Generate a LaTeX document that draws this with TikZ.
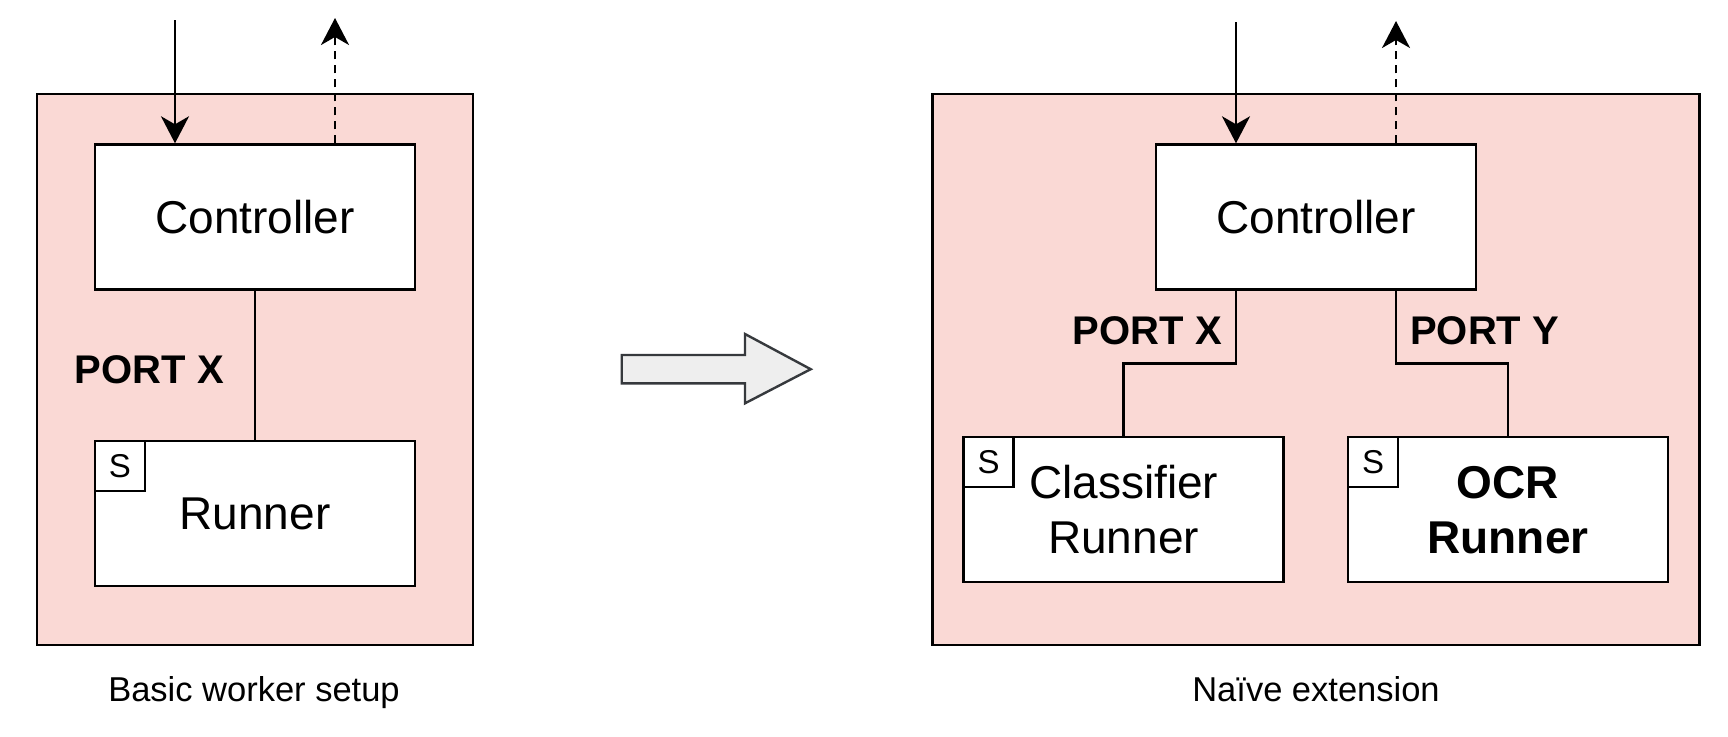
\documentclass[tikz,border=0pt]{standalone}
\usepackage{fontspec}
\setmainfont{Liberation Sans}
\usetikzlibrary{arrows.meta,positioning}

\definecolor{groupfill}{HTML}{FAD9D5}
\definecolor{bigfill}{HTML}{EEEEEE}
\definecolor{bigline}{HTML}{36393D}

\tikzset{
  group/.style={draw, fill=groupfill, line width=2.4pt, minimum height=551pt},
  box/.style={draw, fill=white, line width=2.4pt, minimum width=320pt,
    minimum height=145pt, inner sep=0pt, align=center,
    font=\fontsize{46}{55}\selectfont},
  sbox/.style={draw, fill=white, line width=2.4pt, minimum size=50pt,
    inner sep=0pt, anchor=north west, font=\fontsize{33}{38}\selectfont},
  port/.style={inner sep=0pt, font=\bfseries\fontsize{40}{48}\selectfont},
  caption/.style={inner sep=0pt, anchor=base, font=\fontsize{34.5}{40}\selectfont},
  link/.style={line width=2.4pt},
  flow/.style={line width=2.4pt, -{Stealth[length=27pt,width=28pt,inset=8pt]}},
  reply/.style={flow, dash pattern=on 8pt off 6pt},
}

\begin{document}
\begin{tikzpicture}[x=1pt, y=-1pt]
\useasboundingbox (0,0) rectangle (1728,736);

% Basic worker setup
\node[group, minimum width=436pt] (grpA) at (254.7,369.4) {};
\node[box] (ctrlA) at (255,217) {Controller};
\node[box] (runA) at (255,513.5) {Runner};
\node[sbox] (sA) at (runA.north west) {S};

% Port X
\draw[link] (ctrlA) -- (runA);
\node[port, left=31pt] (portA) at (255,370) {PORT X};

% Request in, reply out
\coordinate (inA) at (175,20);
\coordinate (outA) at (335,18);
\draw[flow] (inA) -- (inA |- ctrlA.north);
\draw[reply] (outA |- ctrlA.north) -- (outA);

\node[caption] (capA) at (254,701) {Basic worker setup};

% Big arrow
\draw[line width=2.4pt, draw=bigline, fill=bigfill]
  (621.7,355) -- (745,355) -- (745,334) -- (810.7,369.2)
  -- (745,403.3) -- (745,383.3) -- (621.7,383.3) -- cycle;

% Naive extension
\node[group, minimum width=767pt] (grpB) at (1316,369.4) {};
\node[box] (ctrlB) at (1316,217) {Controller};
\node[box] (clsB) at (1123.6,509.7) {Classifier\\Runner};
\node[box, font=\bfseries\fontsize{46}{55}\selectfont] (ocrB) at (1508,509.7) {OCR\\Runner};
\node[sbox] (sB) at (clsB.north west) {S};
\node[sbox] (sC) at (ocrB.north west) {S};

% Request in, reply out
\coordinate (inB) at (1236,22);
\coordinate (outB) at (1396,21);
\draw[flow] (inB) -- (inB |- ctrlB.north);
\draw[reply] (outB |- ctrlB.north) -- (outB);

% Ports X and Y
\coordinate (jX) at (1236,363.5);
\coordinate (jY) at (1396,363.5);
\draw[link] (jX |- ctrlB.south) -- (jX) -| (clsB.north);
\draw[link] (jY |- ctrlB.south) -- (jY) -| (ocrB.north);
\node[port, left=14pt] (portX) at (1236,330.6) {PORT X};
\node[port, right=14pt] (portY) at (1396,330.6) {PORT Y};

\node[caption] (capB) at (1316,701) {Naïve extension};

\end{tikzpicture}
\end{document}
